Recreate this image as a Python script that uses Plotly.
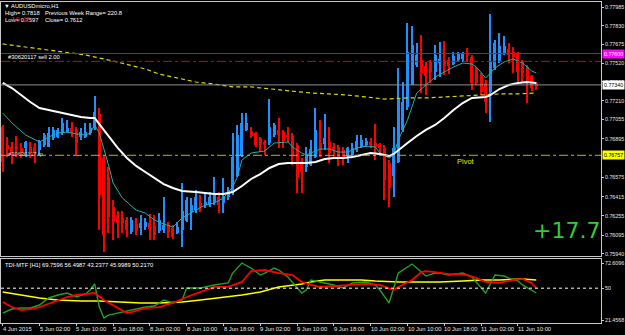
import plotly.graph_objects as go

# ---------------- data ----------------
bars = list(range(117))
opens = [.76991,.76842,.76826,.76826,.76818,.76818,.76826,.76826,.76801,.76842,
         .76826,.76900,.76909,.76942,.76950,.76983,.76967,.76909,.76909,.76942,
         .76983,.77099,.76735,.76577,.76329,.76263,.76238,.76221,.76122,.76188,
         .76155,.76163,.76197,.76172,.76130,.76139,.76180,.76155,.76114,.76139,
         .76213,.76288,.76304,.76362,.76346,.76346,.76370,.76412,.76362,.76412,
         .76445,.76586,.76751,.76967,.76958,.76942,.76900,.76867,.76859,.76925,
         .76967,.76950,.76917,.76917,.76842,.76710,.76660,.76677,.76743,.76859,
         .76851,.76867,.76826,.76826,.76801,.76751,.76760,.76801,.76826,.76842,
         .76867,.76859,.76851,.76818,.76693,.76586,.76702,.76967,.77157,.77339,
         .77505,.77546,.77497,.77530,.77447,.77521,.77538,.77546,.77513,.77546,
         .77554,.77604,.77571,.77480,.77422,.77356,.77281,.77480,.77538,.77604,
         .77637,.77612,.77604,.77530,.77488,.77414,.77356]
highs = [.77008,.76909,.76867,.76917,.76859,.76876,.76867,.76859,.76884,.76942,
         .76991,.76991,.76983,.77066,.77049,.77033,.76991,.76983,.77025,.77025,
         .77248,.77149,.76760,.76660,.76387,.76296,.76296,.76246,.76246,.76238,
         .76263,.76238,.76271,.76263,.76279,.76412,.76205,.76180,.76205,.76528,
         .76412,.76404,.76470,.76428,.76445,.76453,.76577,.76453,.76569,.76495,
         .76942,.77008,.77107,.77107,.76991,.76950,.76909,.76884,.77223,.77025,
         .77066,.76967,.76991,.76942,.76859,.76735,.76826,.76884,.77149,.77049,
         .77099,.76991,.76859,.76842,.76826,.76826,.76859,.76925,.76925,.76900,
         .76900,.77016,.76859,.76842,.76718,.76991,.77480,.77364,.77853,.77828,
         .77687,.77753,.77530,.77546,.77670,.77695,.77703,.77571,.77612,.77612,
         .77612,.77646,.77588,.77488,.77439,.77381,.77927,.77712,.77770,.77745,
         .77687,.77654,.77612,.77546,.77505,.77422,.77364]
lows = [.76619,.76743,.76685,.76743,.76735,.76743,.76735,.76693,.76760,.76826,
        .76826,.76884,.76900,.76925,.76942,.76909,.76760,.76884,.76900,.76925,
        .76967,.76139,.75956,.76114,.76056,.76072,.76114,.76081,.76106,.76097,
        .76097,.76139,.76056,.76056,.76114,.76114,.76072,.76064,.76106,.75998,
        .76205,.76139,.76279,.76288,.76321,.76329,.76346,.76279,.76279,.76387,
        .76428,.76577,.76743,.76958,.76900,.76826,.76784,.76760,.76842,.76909,
        .76818,.76818,.76867,.76677,.76445,.76445,.76619,.76669,.76735,.76743,
        .76801,.76693,.76743,.76669,.76677,.76693,.76743,.76784,.76818,.76826,
        .76818,.76718,.76776,.76387,.76329,.76412,.76693,.76950,.77132,.77339,
        .77488,.77273,.77256,.77356,.77381,.77405,.77422,.77430,.77505,.77530,
        .77530,.77530,.77298,.77339,.77256,.77107,.77033,.77463,.77521,.77588,
        .77521,.77439,.77364,.77356,.77190,.77290,.77298]
closes = [.76702,.76809,.76760,.76809,.76776,.76867,.76784,.76776,.76867,.76925,
          .76942,.76967,.76967,.77025,.76983,.76950,.76859,.76950,.76950,.76983,
          .77116,.76428,.76097,.76246,.76205,.76197,.76197,.76139,.76221,.76130,
          .76197,.76205,.76147,.76097,.76221,.76180,.76122,.76081,.76163,.76296,
          .76387,.76346,.76412,.76329,.76370,.76412,.76445,.76346,.76420,.76470,
          .76743,.76925,.77025,.77025,.76917,.76842,.76842,.76842,.76991,.77008,
          .76925,.76876,.76909,.76760,.76577,.76619,.76760,.76809,.76967,.76801,
          .76900,.76776,.76801,.76743,.76743,.76818,.76818,.76876,.76884,.76876,
          .76842,.76826,.76818,.76553,.76486,.76818,.77232,.77198,.77612,.77670,
          .77588,.77439,.77414,.77447,.77588,.77554,.77497,.77497,.77579,.77604,
          .77604,.77588,.77356,.77356,.77281,.77198,.77530,.77687,.77662,.77662,
          .77588,.77571,.77447,.77439,.77364,.77314,.77331]

cyan_bars = [0,2,5,8,10,12,14,16,18,19,20,21,23,24,26,29,31,33,35,37,39,42,44,46,48,
             50,51,52,54,57,59,62,63,65,66,68,69,71,73,75,77,79,81,82,84,85,86,88,89,90,
             93,94,96,98,100,102,103,105,107,109,111,113,115,116]
cyan_vals = [.77107,.77025,.76925,.76867,.76909,.76942,.76950,.76934,.76925,.76942,
             .77008,.76942,.76677,.76528,.76404,.76304,.76279,.76221,.76188,.76163,
             .76238,.76304,.76346,.76362,.76404,.76495,.76577,.76718,.76776,.76793,
             .76859,.76867,.76826,.76776,.76760,.76793,.76809,.76809,.76784,.76784,
             .76818,.76834,.76826,.76776,.76735,.76760,.76884,.77049,.77157,.77273,
             .77372,.77405,.77447,.77488,.77521,.77513,.77488,.77397,.77480,.77530,
             .77554,.77521,.77455,.77439]

white_bars = [0,2,4,6,8,10,13,15,17,19,20,21,22,24,25,27,29,31,33,35,37,39,42,44,46,
              48,50,52,54,56,58,60,62,64,66,68,70,72,74,76,78,80,82,84,85,86,88,90,92,94,
              96,98,100,102,104,105,106,108,110,112,114,116]
white_vals = [.77356,.77314,.77256,.77198,.77149,.77132,.77107,.77091,.77074,.77066,
              .77066,.77016,.76967,.76867,.76818,.76735,.76669,.76619,.76569,.76519,
              .76486,.76462,.76453,.76445,.76437,.76437,.76453,.76503,.76561,.76602,
              .76652,.76685,.76693,.76693,.76693,.76702,.76727,.76735,.76735,.76743,
              .76760,.76776,.76768,.76751,.76768,.76801,.76859,.76917,.76967,.77008,
              .77066,.77132,.77190,.77232,.77240,.77240,.77256,.77306,.77339,.77356,
              .77364,.77356]

slow_bars = [0,10,18,24,28,31,34,38,42,46,50,54,58,62,67,71,75,79,83,88,92,96,100,104,108,112,116]
slow_vals = [.77679,.77629,.77588,.77538,.77497,.77472,.77430,.77397,.77364,.77347,
             .77323,.77323,.77306,.77290,.77273,.77265,.77256,.77240,.77223,.77232,
             .77232,.77240,.77248,.77256,.77265,.77265,.77273]

# horizontal levels
level_entry = 0.77600
level_sl = 0.77535
level_bid = 0.77340
level_pivot = 0.76757

# TDI sub-window
green_bars = [0,2,4,6,8,10,12,14,16,18,19,20,21,22,23,26,28,31,33,35,37,39,40,43,46,
              49,50,52,54,56,57,59,60,62,65,66,67,69,72,74,76,79,81,82,84,86,87,89,91,92,
              94,95,97,99,100,102,104,105,107,109,110,112,113,115,116]
green_vals = [27.7,31.3,32.2,32.2,34.9,41.2,43.9,45.7,42.1,44.8,48.4,53.8,33.1,23.3,25.9,
              28.6,30.4,33.1,34.0,39.4,36.7,39.4,50.2,50.2,52.9,54.7,63.6,72.6,68.1,61.8,
              63.6,68.1,66.3,60.0,45.7,48.4,57.4,55.6,52.9,50.2,54.7,55.6,52.9,48.4,36.7,
              63.6,66.3,71.7,64.5,60.9,63.6,63.6,61.8,62.7,63.6,60.0,51.1,45.7,61.8,60.9,
              59.1,56.5,52.9,48.4,45.7]
red_bars = [0,2,4,6,8,11,14,16,18,20,22,24,27,28,31,34,37,40,43,46,49,52,54,57,60,
            63,65,67,69,72,76,79,82,84,85,86,89,91,92,94,97,99,101,103,105,108,111,113,115,116]
red_vals = [37.6,33.1,30.4,31.3,33.1,37.6,42.1,43.9,44.8,45.7,39.4,34.9,27.7,28.6,32.2,
            33.1,36.7,42.1,46.6,51.1,51.1,55.6,65.4,66.3,63.6,61.8,55.6,52.9,51.1,52.0,
            52.9,53.8,52.9,50.2,48.4,51.1,57.4,64.5,65.4,64.5,62.7,62.7,61.8,59.1,55.6,
            54.7,57.4,58.3,54.7,50.2]
tdiy_bars = [0,4,8,12,17,21,26,30,34,39,43,47,52,56,60,65,67,70,73,78,81,84,86,91,95,
             100,104,108,113,116]
tdiy_vals = [46.6,43.9,41.2,39.4,38.5,38.5,37.6,36.7,36.7,37.6,39.4,41.2,43.9,46.6,51.1,
             53.8,55.6,57.4,57.4,57.4,56.5,55.6,55.6,55.6,55.6,56.5,57.4,57.4,58.3,57.4]
tdi_mid = 50

price_ticks = [0.77985, 0.77830, 0.77675, 0.77520, 0.77365, 0.77210, 0.77055, 0.76895,
               0.76575, 0.76415, 0.76255, 0.76095, 0.75940]
tdi_ticks = [72.6096, 50, 21.4568]
time_bars = [0, 8, 16, 24, 32, 40, 48, 56, 64, 72, 80, 88, 96, 104, 112]
time_labels = ["4 Jun 2015", "5 Jun 02:00", "5 Jun 10:00", "5 Jun 18:00", "8 Jun 02:00",
               "8 Jun 10:00", "8 Jun 18:00", "9 Jun 02:00", "9 Jun 10:00", "9 Jun 18:00",
               "10 Jun 02:00", "10 Jun 10:00", "10 Jun 18:00", "11 Jun 02:00", "11 Jun 10:00"]

# ---------------- figure ----------------
W, H = 625, 335
ML, MR, MT, MB = 1, 24, 2, 12
PW, PH = W - ML - MR, H - MT - MB


def PX(x):
    return (x - ML) / PW


def PY(y):
    return (H - MB - y) / PH


BLUE = "#1E90FF"
RED = "#FF0000"
colors = [BLUE if c >= o else RED for o, c in zip(opens, closes)]
body_base = [min(o, c) for o, c in zip(opens, closes)]
body_h = [max(abs(c - o), 0.00003) for o, c in zip(opens, closes)]
wick_h = [h - l for h, l in zip(highs, lows)]

fig = go.Figure()
fig.add_trace(go.Bar(x=bars, y=wick_h, base=lows, width=0.24,
                     marker=dict(color=colors, line=dict(width=0)), xaxis="x", yaxis="y"))
fig.add_trace(go.Bar(x=bars, y=body_h, base=body_base, width=0.68,
                     marker=dict(color=colors, line=dict(width=0)), xaxis="x", yaxis="y"))
fig.add_trace(go.Scatter(x=slow_bars, y=slow_vals, mode="lines",
                         line=dict(color="#D8D800", width=1.2, dash="4px,3px"),
                         xaxis="x", yaxis="y"))
fig.add_trace(go.Scatter(x=cyan_bars, y=cyan_vals, mode="lines",
                         line=dict(color="#20B2AA", width=1), xaxis="x", yaxis="y"))
fig.add_trace(go.Scatter(x=white_bars, y=white_vals, mode="lines",
                         line=dict(color="#FFFFFF", width=2), xaxis="x", yaxis="y"))

fig.add_trace(go.Scatter(x=tdiy_bars, y=tdiy_vals, mode="lines",
                         line=dict(color="#FFFF00", width=1.6), xaxis="x2", yaxis="y2"))
fig.add_trace(go.Scatter(x=green_bars, y=green_vals, mode="lines",
                         line=dict(color="#22A022", width=1.4), xaxis="x2", yaxis="y2"))
fig.add_trace(go.Scatter(x=red_bars, y=red_vals, mode="lines",
                         line=dict(color="#FF0000", width=1.8), xaxis="x2", yaxis="y2"))

shapes = [
    dict(type="line", xref="paper", x0=0, x1=1, yref="y", y0=level_entry, y1=level_entry,
         line=dict(color="#B000B0", width=1)),
    dict(type="line", xref="paper", x0=0, x1=1, yref="y", y0=level_sl, y1=level_sl,
         line=dict(color="#E00000", width=1, dash="dashdot")),
    dict(type="line", xref="paper", x0=0, x1=1, yref="y", y0=level_bid, y1=level_bid,
         line=dict(color="#909090", width=1)),
    dict(type="line", xref="paper", x0=0, x1=1, yref="y", y0=level_pivot, y1=level_pivot,
         line=dict(color="#B8B800", width=1, dash="dashdot")),
    dict(type="line", xref="paper", x0=0, x1=1, yref="y2", y0=tdi_mid, y1=tdi_mid,
         line=dict(color="#FFFFFF", width=1, dash="dot")),
]

FONT = "Liberation Sans, Arial, sans-serif"
SMALL = 5.8
AXF = 5.3
ann = []
for v in price_ticks:
    ann.append(dict(xref="paper", x=1, xanchor="left", xshift=2, yref="y", y=v,
                    yanchor="middle", text="%.5f" % v, showarrow=False,
                    font=dict(family=FONT, size=AXF, color="#E8E8E8")))
for v, bg, fg in [(level_entry, "#FF00FF", "#FFFFFF"), (level_bid, "#FFFFFF", "#000000"),
                  (level_pivot, "#FFFF00", "#000000")]:
    ann.append(dict(xref="paper", x=1, xanchor="left", xshift=1, yref="y", y=v,
                    yanchor="middle", text="%.5f" % v, showarrow=False, bgcolor=bg,
                    borderpad=1, font=dict(family=FONT, size=AXF, color=fg)))
for v in tdi_ticks:
    ann.append(dict(xref="paper", x=1, xanchor="left", xshift=2, yref="y2", y=v,
                    yanchor="middle", text=("%g" % v), showarrow=False,
                    font=dict(family=FONT, size=AXF, color="#E8E8E8")))
for b, t in zip(time_bars, time_labels):
    ann.append(dict(xref="x2", x=b, xanchor="left", xshift=-2, yref="paper", y=0,
                    yanchor="top", yshift=-1, text=t, showarrow=False,
                    font=dict(family=FONT, size=SMALL, color="#E8E8E8")))


def txt(x, y, t, size=SMALL, color="#FFFFFF", family=FONT):
    ann.append(dict(xref="paper", x=PX(x), xanchor="left", yref="paper", y=PY(y),
                    yanchor="middle", text=t, showarrow=False,
                    font=dict(family=family, size=size, color=color)))


txt(2, 6, "▼ AUDUSDmicro,H1")
txt(3, 13, "High= 0.7818")
txt(43, 13, "Previous Week Range= 220.8")
txt(3, 20, "Low= 0.7597")
txt(43, 20, "Close= 0.7612")
txt(9, 19, "10:45", size=8, color="#E01010")
txt(6, 57, "#30620117 sell 2.00")
txt(6, 154, "#30620117 tp", color="#C8C8C8")
txt(455, 161, "Pivot", size=7.5, color="#E8E800")
txt(531, 230, "+17.7", size=22, color="#32CD32", family="DejaVu Sans, sans-serif")
txt(3, 265, "TDI-MTF [H1] 69.7596 56.4987 43.2377 45.9989 50.2170")

xr = [-0.37, -0.37 + PW / 4.6]
axis_common = dict(showgrid=False, zeroline=False, showline=True, mirror=True,
                   linecolor="#C8C8C8", linewidth=1)
main_bottom = PY(256)
sub_top = PY(259)

fig.update_layout(
    width=W, height=H, template="none",
    margin=dict(l=ML, r=MR, t=MT, b=MB),
    paper_bgcolor="#000000", plot_bgcolor="#000000",
    showlegend=False, barmode="overlay", bargap=0, hovermode=False,
    xaxis=dict(domain=[0, 1], anchor="y", range=xr, showticklabels=False, ticks="",
               **axis_common),
    xaxis2=dict(domain=[0, 1], anchor="y2", range=xr, showticklabels=False,
                ticks="outside", ticklen=2, tickcolor="#C8C8C8", tickvals=time_bars,
                **axis_common),
    yaxis=dict(domain=[main_bottom, 1], anchor="x", side="right",
               range=[0.78043 - 256 * 0.0000828, 0.78043 - 2 * 0.0000828],
               tickvals=price_ticks, showticklabels=False, ticks="outside", ticklen=2,
               tickcolor="#C8C8C8", **axis_common),
    yaxis2=dict(domain=[0, sub_top], anchor="x2", side="right", range=[18.77, 76.2],
                tickvals=tdi_ticks, showticklabels=False, ticks="outside", ticklen=2,
                tickcolor="#C8C8C8", **axis_common),
    shapes=shapes, annotations=ann,
)

fig.write_html("out.html")
